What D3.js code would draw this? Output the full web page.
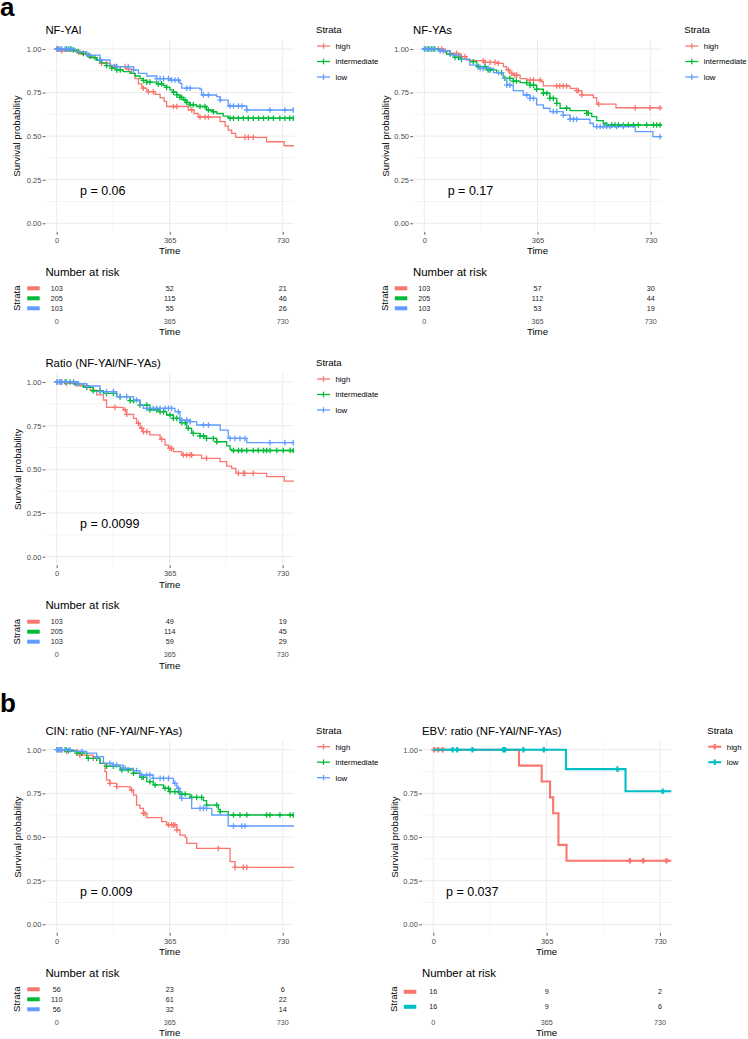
<!DOCTYPE html>
<html><head><meta charset="utf-8">
<script src="https://cdn.jsdelivr.net/npm/d3@7"></script>
<style>body{margin:0;background:#fff} svg{display:block} text{font-family:"Liberation Sans",Arial,sans-serif}</style>
</head><body>
<svg id="c" width="748" height="1039"></svg>
<script>
// ---------- DATA ----------
const timeTicks = [0, 365, 730];
const yTicks = [0, 0.25, 0.5, 0.75, 1];
const strata3 = ["high", "intermediate", "low"];
const strata2 = ["high", "low"];
const colors3 = ["#F8766D", "#00BA38", "#619CFF"];
const colors2 = ["#F8766D", "#00BFC4"];
const panelTitles = ["NF-YAl", "NF-YAs", "Ratio (NF-YAl/NF-YAs)", "CIN: ratio (NF-YAl/NF-YAs)", "EBV: ratio (NF-YAl/NF-YAs)"];
const pvals = ["p = 0.06", "p = 0.17", "p = 0.0099", "p = 0.009", "p = 0.037"];

// NF-YAl
const yalHighSteps = [[10,0.99],[65,0.98],[80,0.97],[100,0.96],[118,0.95],[130,0.935],[140,0.918],[172,0.899],[226,0.885],[242,0.86],[253,0.83],[264,0.80],[275,0.775],[291,0.755],[318,0.74],[334,0.72],[347,0.70],[355,0.67],[425,0.65],[444,0.63],[457,0.61],[528,0.583],[544,0.558],[554,0.535],[565,0.516],[578,0.493],[678,0.468],[735,0.445]];
const yalIntSteps = [[48,0.995],[65,0.985],[80,0.975],[97,0.96],[110,0.95],[129,0.935],[145,0.92],[161,0.905],[178,0.89],[194,0.88],[215,0.87],[237,0.86],[253,0.845],[269,0.83],[280,0.82],[291,0.81],[323,0.80],[345,0.79],[355,0.78],[366,0.765],[377,0.752],[388,0.737],[398,0.722],[409,0.707],[420,0.693],[431,0.68],[452,0.67],[484,0.65],[506,0.64],[517,0.63],[538,0.615],[554,0.603]];
const yalLowSteps = [[60,0.985],[97,0.965],[140,0.937],[172,0.908],[194,0.899],[248,0.88],[264,0.86],[291,0.845],[323,0.83],[366,0.822],[398,0.803],[404,0.775],[463,0.769],[468,0.736],[517,0.727],[528,0.707],[554,0.673],[614,0.65]];
const yalHighCens = [2,5,16,75,106,145,161,188,221,232,280,296,312,377,388,436,463,479,490,608,619,635];
const yalIntCens = [32,43,54,70,86,108,124,140,161,178,194,205,280,291,301,328,339,355,377,388,398,404,415,420,431,441,463,479,490,506,560,571,587,603,619,635,652,668,684,700,721,737,753,764];
const yalLowCens = [0,5,11,16,27,38,48,102,140,194,231,248,323,334,345,361,371,382,393,420,431,474,490,528,560,571,587,598,614,689,737,764];
const yalRisk = [[103,52,21],[205,115,46],[103,55,26]];

// NF-YAs
const yasHighSteps = [[61,0.99],[83,0.975],[115,0.956],[137,0.937],[147,0.933],[196,0.923],[233,0.918],[255,0.899],[265,0.88],[276,0.86],[287,0.85],[309,0.83],[330,0.822],[378,0.813],[384,0.788],[470,0.774],[491,0.761],[508,0.736],[545,0.721],[556,0.684],[618,0.663]];
const yasIntSteps = [[51,0.99],[72,0.971],[94,0.952],[115,0.94],[147,0.927],[169,0.899],[201,0.88],[233,0.864],[255,0.832],[287,0.816],[309,0.807],[341,0.793],[362,0.769],[384,0.746],[405,0.717],[427,0.688],[438,0.66],[470,0.646],[524,0.631],[540,0.612],[556,0.589],[577,0.574],[588,0.564]];
const yasLowSteps = [[51,0.99],[83,0.966],[115,0.94],[147,0.908],[180,0.889],[223,0.864],[255,0.832],[266,0.793],[287,0.761],[319,0.736],[341,0.717],[362,0.679],[384,0.66],[405,0.641],[448,0.621],[470,0.597],[534,0.574],[545,0.555],[680,0.526],[737,0.497]];
const yasHighCens = [45,56,67,104,120,131,190,196,212,228,239,271,282,292,298,341,352,373,427,437,448,459,491,497,508,562,680,728,760];
const yasIntCens = [2,13,24,34,83,99,110,120,158,174,196,206,212,249,260,276,287,297,330,341,352,362,384,395,405,416,427,459,524,529,588,604,615,626,642,658,674,690,717,739,749,760];
const yasLowCens = [0,8,18,29,51,61,94,180,190,206,239,266,276,330,341,352,416,427,448,470,481,491,556,567,577,588,599,620,642,760];
const yasRisk = [[103,57,30],[205,112,44],[103,53,19]];

// Ratio
const ratHighSteps = [[32,0.992],[75,0.977],[108,0.954],[129,0.926],[151,0.897],[161,0.855],[215,0.84],[226,0.815],[248,0.792],[258,0.763],[269,0.735],[280,0.716],[301,0.697],[334,0.672],[350,0.639],[361,0.62],[377,0.601],[404,0.582],[468,0.563],[528,0.544],[549,0.519],[565,0.506],[579,0.477],[678,0.458],[735,0.433]];
const ratIntSteps = [[54,0.99],[86,0.97],[118,0.95],[151,0.935],[194,0.916],[237,0.893],[269,0.868],[301,0.84],[334,0.83],[355,0.811],[377,0.792],[398,0.767],[420,0.735],[436,0.706],[463,0.691],[484,0.677],[517,0.658],[549,0.634],[560,0.614],[565,0.608]];
const ratLowSteps = [[65,0.99],[97,0.977],[140,0.945],[194,0.916],[248,0.897],[269,0.868],[280,0.849],[382,0.83],[398,0.782],[431,0.773],[452,0.754],[528,0.725],[554,0.677],[614,0.653]];
const ratHighCens = [1,16,32,59,188,221,226,264,275,280,291,339,366,371,409,420,431,436,484,587,603,608,635];
const ratIntCens = [11,27,43,65,97,118,140,161,183,205,237,248,269,291,301,323,334,345,366,377,388,404,415,425,441,463,474,484,506,517,571,587,598,614,635,651,668,678,689,711,732,754,764];
const ratLowCens = [1,3,11,16,32,54,70,97,140,161,183,205,226,258,291,312,323,334,350,361,371,393,404,420,431,474,490,560,576,592,608,689,737,764];
const ratRisk = [[103,49,19],[205,114,45],[103,59,29]];

// CIN
const cinHighSteps = [[32,0.99],[75,0.969],[118,0.95],[140,0.922],[156,0.874],[161,0.826],[172,0.807],[194,0.788],[237,0.769],[248,0.74],[258,0.683],[269,0.664],[280,0.635],[291,0.611],[339,0.588],[355,0.569],[388,0.54],[398,0.511],[415,0.498],[420,0.464],[452,0.435],[560,0.359],[576,0.326]];
const cinIntSteps = [[32,0.994],[65,0.98],[97,0.95],[140,0.922],[161,0.906],[205,0.884],[248,0.865],[269,0.842],[291,0.817],[312,0.798],[345,0.779],[366,0.76],[398,0.746],[431,0.727],[474,0.708],[484,0.683],[522,0.658],[528,0.645],[554,0.626]];
const cinLowSteps = [[54,0.99],[97,0.98],[129,0.96],[151,0.922],[183,0.912],[215,0.893],[248,0.88],[269,0.855],[312,0.836],[377,0.807],[388,0.779],[398,0.721],[436,0.664],[501,0.626],[554,0.563]];
const cinHighCens = [11,32,65,75,118,172,194,242,280,285,361,371,377,382,388,522,576,603,614];
const cinIntCens = [5,16,27,38,65,81,102,129,161,183,210,231,248,275,280,301,318,350,361,366,382,393,404,415,436,452,468,484,517,528,571,592,614,678,689,721,754,764];
const cinLowCens = [0,5,11,16,32,43,81,129,172,183,194,215,221,258,275,291,301,312,334,345,361,382,393,404,463,474,484,571,598,608];
const cinRisk = [[56,23,6],[110,61,22],[56,32,14]];

// EBV
const ebvHighSteps = [[276,0.909],[349,0.818],[376,0.727],[386,0.636],[403,0.455],[429,0.364]];
const ebvLowSteps = [[427,0.889],[619,0.762]];
const ebvHighCens = [3,16,30,633,676,751];
const ebvLowCens = [62,77,126,225,231,290,356,593,739];
const ebvRisk = [[16,9,2],[16,9,6]];

const endTime = 800;
const xDomain = [-36.5, 766.5];

// ---------- LAYOUT ----------
const panels = [
  {strata:strata3, colors:colors3, steps:[yalHighSteps,yalIntSteps,yalLowSteps], cens:[yalHighCens,yalIntCens,yalLowCens], risk:yalRisk,
   x0:56.7, x730:282.7, y1:49, y0:223.3, legX:316, yTitleX:17, riskLabX:17, pX:80, lw:1.3},
  {strata:strata3, colors:colors3, steps:[yasHighSteps,yasIntSteps,yasLowSteps], cens:[yasHighCens,yasIntCens,yasLowCens], risk:yasRisk,
   x0:424.3, x730:650.7, y1:49, y0:223.3, legX:684.3, yTitleX:385.7, riskLabX:385, pX:447.7, lw:1.3},
  {strata:strata3, colors:colors3, steps:[ratHighSteps,ratIntSteps,ratLowSteps], cens:[ratHighCens,ratIntCens,ratLowCens], risk:ratRisk,
   x0:56.7, x730:282.7, y1:382, y0:556.7, legX:316, yTitleX:17.5, riskLabX:17, pX:80, lw:1.3},
  {strata:strata3, colors:colors3, steps:[cinHighSteps,cinIntSteps,cinLowSteps], cens:[cinHighCens,cinIntCens,cinLowCens], risk:cinRisk,
   x0:56.7, x730:282.7, y1:749.7, y0:924.3, legX:316, yTitleX:17.5, riskLabX:17, pX:80, lw:1.3},
  {strata:strata2, colors:colors2, steps:[ebvHighSteps,ebvLowSteps], cens:[ebvHighCens,ebvLowCens], risk:ebvRisk,
   x0:433.3, x730:660, y1:749.7, y0:924.3, legX:707.3, yTitleX:395, riskLabX:393.3, pX:446, lw:2.1}
];

const svg = d3.select("#c");
const defs = svg.append("defs");

function survAt(st, t){ let s = 1; for (const [ti, si] of st) if (ti <= t) s = si; return s; }

function styleAxis(sel, fs){
  sel.select(".domain").remove();
  sel.selectAll(".tick line").attr("stroke", "#333").attr("stroke-width", 0.8);
  sel.selectAll(".tick text").attr("fill", "#4D4D4D").attr("font-size", fs).attr("font-family", '"Liberation Sans", Arial, sans-serif');
}

panels.forEach((p, i) => {
  const x = d3.scaleLinear().domain([0, 730]).range([p.x0, p.x730]);
  const y = d3.scaleLinear().domain([0, 1]).range([p.y0, p.y1]);
  const L = x(xDomain[0]), R = x(xDomain[1]), T = y(1.05), B = y(-0.05);
  const g = svg.append("g");

  defs.append("clipPath").attr("id", "clip" + i).append("rect")
    .attr("x", L).attr("y", T - 4).attr("width", R - L).attr("height", B - T + 8);

  // grid
  const grid = g.append("g");
  [182.5, 547.5].forEach(t => grid.append("line").attr("x1", x(t)).attr("x2", x(t)).attr("y1", T).attr("y2", B).attr("stroke", "#EBEBEB").attr("stroke-width", 0.5));
  [0.125, 0.375, 0.625, 0.875].forEach(v => grid.append("line").attr("x1", L).attr("x2", R).attr("y1", y(v)).attr("y2", y(v)).attr("stroke", "#EBEBEB").attr("stroke-width", 0.5));
  timeTicks.forEach(t => grid.append("line").attr("x1", x(t)).attr("x2", x(t)).attr("y1", T).attr("y2", B).attr("stroke", "#EBEBEB").attr("stroke-width", 1));
  yTicks.forEach(v => grid.append("line").attr("x1", L).attr("x2", R).attr("y1", y(v)).attr("y2", y(v)).attr("stroke", "#EBEBEB").attr("stroke-width", 1));

  // axes
  g.append("g").attr("transform", `translate(${L},0)`)
    .call(d3.axisLeft(y).tickValues(yTicks).tickFormat(d3.format(".2f")).tickSize(2.7).tickPadding(1.3))
    .call(s => styleAxis(s, 7.5));
  g.append("g").attr("transform", `translate(0,${B})`)
    .call(d3.axisBottom(x).tickValues(timeTicks).tickFormat(d3.format("d")).tickSize(2.7).tickPadding(2.8))
    .call(s => styleAxis(s, 7.5));

  // titles
  g.append("text").attr("x", L).attr("y", p.y1 - 15).attr("font-size", 11.4).attr("fill", "#000").text(panelTitles[i]);
  g.append("text").attr("transform", `translate(${p.yTitleX + 3.4},${(T + B) / 2}) rotate(-90)`)
    .attr("text-anchor", "middle").attr("font-size", 9.7).text("Survival probability");
  g.append("text").attr("x", (L + R) / 2).attr("y", p.y0 + 31).attr("text-anchor", "middle").attr("font-size", 9.7).text("Time");

  // curves
  const cg = g.append("g").attr("clip-path", `url(#clip${i})`);
  const line = d3.line().x(d => x(d[0])).y(d => y(d[1])).curve(d3.curveStepAfter);
  p.steps.forEach((st, k) => {
    const pts = [[0, 1], ...st, [endTime, st[st.length - 1][1]]];
    cg.append("path").attr("d", line(pts)).attr("fill", "none").attr("stroke", p.colors[k]).attr("stroke-width", p.lw);
    p.cens[k].forEach(t => {
      const cx = x(t), cy = y(survAt(st, t)), h = 2.8;
      cg.append("path").attr("d", `M${cx},${cy - h}V${cy + h}M${cx - h},${cy}H${cx + h}`)
        .attr("stroke", p.colors[k]).attr("stroke-width", p.lw);
    });
  });

  // p-value
  g.append("text").attr("x", p.pX).attr("y", y(0.19) + 4.4).attr("font-size", 12.5).text(pvals[i]);

  // legend
  const lg = g.append("g");
  lg.append("text").attr("x", p.legX).attr("y", p.y1 - 16.2).attr("font-size", 9.6).text("Strata");
  p.strata.forEach((s, k) => {
    const cy = p.y1 - 3 + k * 15.5;
    lg.append("line").attr("x1", p.legX + 1).attr("x2", p.legX + 14).attr("y1", cy).attr("y2", cy).attr("stroke", p.colors[k]).attr("stroke-width", p.lw);
    lg.append("line").attr("x1", p.legX + 7.5).attr("x2", p.legX + 7.5).attr("y1", cy - 2.8).attr("y2", cy + 2.8).attr("stroke", p.colors[k]).attr("stroke-width", p.lw);
    lg.append("text").attr("x", p.legX + 19.5).attr("y", cy + 2.8).attr("font-size", 7.8).text(s);
  });

  // risk table
  const rt = g.append("g");
  rt.append("text").attr("x", L).attr("y", p.y0 + 52.4).attr("font-size", 11.4).text("Number at risk");
  const n = p.risk.length;
  p.risk.forEach((row, k) => {
    const cy = p.y0 + 60 + (k + 0.5) * 30 / n;
    rt.append("rect").attr("x", p.x0 - 29.5).attr("y", cy - 2).attr("width", 12.5).attr("height", 4).attr("fill", p.colors[k]);
    row.forEach((v, j) => {
      rt.append("text").attr("x", x(timeTicks[j])).attr("y", cy + 2.6).attr("text-anchor", "middle").attr("font-size", 7.2).attr("fill", "#1a1a1a").text(v);
    });
  });
  rt.append("text").attr("transform", `translate(${p.riskLabX + 3.4},${p.y0 + 75}) rotate(-90)`)
    .attr("text-anchor", "middle").attr("font-size", 9.6).text("Strata");
  timeTicks.forEach(t => rt.append("text").attr("x", x(t)).attr("y", p.y0 + 100.3).attr("text-anchor", "middle").attr("font-size", 7.2).attr("fill", "#4D4D4D").text(t));
  rt.append("text").attr("x", (L + R) / 2).attr("y", p.y0 + 111.9).attr("text-anchor", "middle").attr("font-size", 9.7).text("Time");
});

// panel letters
svg.append("text").attr("x", 0).attr("y", 16).attr("font-size", 26).attr("font-weight", "bold").text("a");
svg.append("text").attr("x", 0).attr("y", 711.7).attr("font-size", 26).attr("font-weight", "bold").text("b");
</script></body></html>
